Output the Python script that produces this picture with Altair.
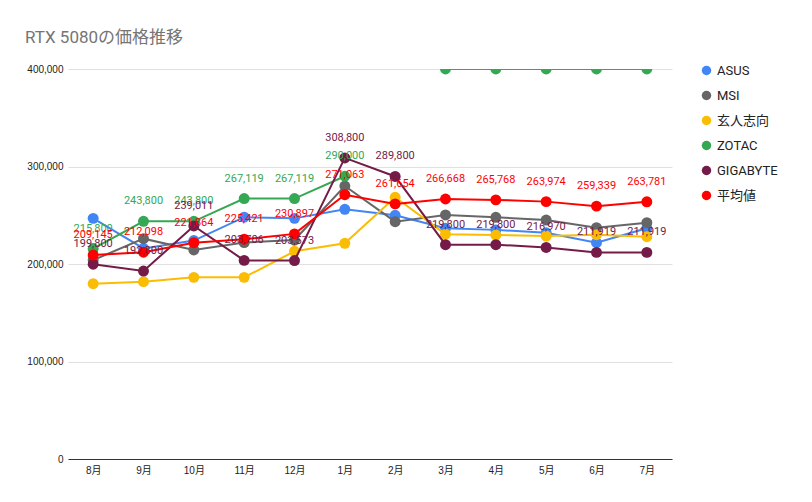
import altair as alt
import pandas as pd

months = ["8月", "9月", "10月", "11月", "12月", "1月", "2月", "3月", "4月", "5月", "6月", "7月"]
series = ["ASUS", "MSI", "玄人志向", "ZOTAC", "GIGABYTE", "平均値"]
colors = ["#4285F4", "#666666", "#FBBC04", "#34A853", "#741B47", "#FF0000"]
labeled = ["ZOTAC", "GIGABYTE", "平均値"]

asus = [246800, 216000, 224000, 248000, 246800, 256100, 250000, 236600, 235000, 232000, 221900, 236600]
msi = [204000, 226000, 214400, 222000, 224600, 280000, 243400, 250300, 247900, 245100, 237300, 242400]
kuroto = [179800, 181900, 186300, 186300, 213000, 221200, 268400, 230600, 229700, 228700, 230000, 228000]
zotac = [215800, 243800, 243800, 267119, 267119, 290000, None, 400000, 400000, 400000, 400000, 400000]
gigabyte = [199800, 192800, 239011, 203706, 203573, 308800, 289800, 219800, 219800, 216970, 211919, 211919]
avg = [209145, 212098, 221864, 225421, 230897, 271063, 261654, 266668, 265768, 263974, 259339, 263781]

rows = []
for s, vals in zip(series, [asus, msi, kuroto, zotac, gigabyte, avg]):
    for m, v in zip(months, vals):
        rows.append({"series": s, "month": m, "value": v})
df = pd.DataFrame(rows)

FONT = "Roboto, 'Noto Sans CJK JP', sans-serif"
AXFONT = "'Liberation Sans', Arial, 'Noto Sans CJK JP', sans-serif"

x = alt.X(
    "month:N", sort=months, scale=alt.Scale(type="point", padding=0.5),
    axis=alt.Axis(title=None, labelAngle=0, ticks=False, domain=True, domainColor="#333333",
                  labelFontSize=10, labelColor="#222222", labelPadding=6, labelFont=AXFONT, grid=False),
)
y = alt.Y(
    "value:Q", scale=alt.Scale(domain=[0, 400000], nice=False),
    axis=alt.Axis(title=None, values=[0, 100000, 200000, 300000, 400000],
                  labelExpr="format(datum.value, ',')",
                  ticks=False, domain=False, gridColor="#e0e0e0", labelFontSize=10,
                  labelColor="#222222", labelPadding=5, labelFont=AXFONT),
)
cscale = alt.Scale(domain=series, range=colors)
legend = alt.Legend(
    title=None, orient="none", legendX=632, legendY=-5, symbolType="circle",
    symbolSize=90, labelFontSize=13, labelFont=FONT, labelColor="#222222",
    rowPadding=11, labelOffset=4, padding=0, symbolStrokeWidth=0,
)

base = alt.Chart(df)
layers = []
for s, c in zip(series, colors):
    sub = base.transform_filter(alt.datum.series == s)
    line = sub.mark_line(strokeWidth=2, invalid="break-paths-filter-domains", clip=True).encode(
        x=x, y=y, color=alt.value(c)
    )
    pt = sub.mark_point(filled=True, size=120, opacity=1, clip=True).encode(
        x=x, y=y, color=alt.Color("series:N", scale=cscale, legend=legend),
    )
    layers += [line, pt]

for s, c in zip(series, colors):
    if s not in labeled:
        continue
    lab = base.transform_filter(alt.datum.series == s).mark_text(
        dy=-20, fontSize=11, font=FONT, clip=True
    ).encode(x=x, y=y, text=alt.Text("value:Q", format=","), color=alt.value(c))
    layers.append(lab)

chart = alt.layer(*layers).properties(
    width=604, height=390,
    title=alt.Title("RTX 5080の価格推移", anchor="start", frame="group", fontSize=17,
                    color="#757575", font=FONT, fontWeight="normal", dx=-43, offset=17),
    autosize=alt.AutoSizeParams(type="none"),
    padding={"left": 68, "top": 69, "right": 140, "bottom": 43},
).configure(font=FONT, view=alt.ViewConfig(strokeWidth=0, stroke=None))

chart.save("out.html", embed_options={"renderer": "svg", "actions": False})
